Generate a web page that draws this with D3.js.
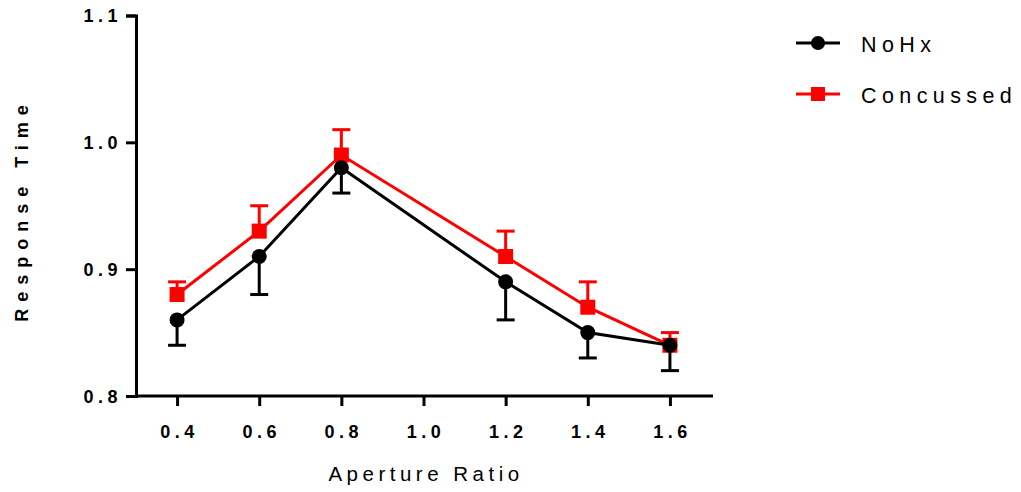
<!DOCTYPE html>
<html>
<head>
<meta charset="utf-8">
<script src="https://cdn.jsdelivr.net/npm/d3@7"></script>
<style>
  body { margin: 0; background: #fff; }
  svg { font-family: "Liberation Sans", Arial, sans-serif; }
</style>
</head>
<body>
<div class="canvas"></div>
<script>
const ratios = [0.4, 0.6, 0.8, 1.2, 1.4, 1.6];
const noHx = [0.86, 0.91, 0.98, 0.89, 0.85, 0.84];
const noHxErr = [0.02, 0.03, 0.02, 0.03, 0.02, 0.02];
const concussed = [0.88, 0.93, 0.99, 0.91, 0.87, 0.84];
const concussedErr = [0.01, 0.02, 0.02, 0.02, 0.02, 0.01];
const xTicks = [0.4, 0.6, 0.8, 1.0, 1.2, 1.4, 1.6];
const yTicks = [0.8, 0.9, 1.0, 1.1];

const svg = d3.select('.canvas').append('svg')
    .attr('width', 1021)
    .attr('height', 492)

// scales
const x = d3.scaleLinear().domain([0.3, 1.7]).range([136, 711]);
const y = d3.scaleLinear().domain([0.8, 1.1]).range([396, 15.5]);

// axes
const xAxisGroup = svg.append('g')
    .attr('transform', 'translate(0,396)')
    .call(d3.axisBottom(x).tickValues(xTicks).tickSize(10).tickPadding(19).tickFormat(d3.format('.1f')));

const yAxisGroup = svg.append('g')
    .attr('transform', 'translate(136,0)')
    .call(d3.axisLeft(y).tickValues(yTicks).tickSize(10).tickPadding(4).tickFormat(d3.format('.1f')));

[xAxisGroup, yAxisGroup].forEach(g => {
    g.select('.domain').attr('stroke', '#000').attr('stroke-width', 3);
    g.selectAll('.tick line').attr('stroke', '#000').attr('stroke-width', 3);
    g.selectAll('text')
        .attr('fill', '#000')
        .style('font-size', '18px')
        .style('font-weight', 'bold')
        .style('letter-spacing', '4.5px')
        .style('font-family', '"Liberation Sans", Arial, sans-serif');
});
xAxisGroup.select('.domain').attr('d', 'M136,0H713');
xAxisGroup.selectAll('text').attr('dx', '2px');
yAxisGroup.selectAll('text').attr('dy', '0.35em');

// titles
svg.append('text')
    .attr('x', 426).attr('y', 481)
    .attr('text-anchor', 'middle')
    .style('font-size', '20.5px')
    .style('letter-spacing', '4.5px')
    .text('Aperture Ratio');

svg.append('text')
    .attr('transform', 'translate(27.5,210) rotate(-90)')
    .attr('text-anchor', 'middle')
    .style('font-size', '18px')
    .style('font-weight', 'bold')
    .style('letter-spacing', '7px')
    .text('Response Time');

const line = d3.line().x(d => x(d[0])).y(d => y(d[1]));

const series = [
    { name: 'NoHx', values: noHx, err: noHxErr, color: '#000', dir: -1, shape: 'circle' },
    { name: 'Concussed', values: concussed, err: concussedErr, color: '#ff0000', dir: 1, shape: 'square' }
];

// red drawn first so black markers sit on top
series.slice().reverse().forEach(s => {
    const g = svg.append('g');
    const pts = ratios.map((r, i) => [r, s.values[i], s.err[i]]);

    // one-sided error bars
    pts.forEach(p => {
        const yEnd = y(p[1] + s.dir * p[2]);
        g.append('line')
            .attr('x1', x(p[0])).attr('x2', x(p[0]))
            .attr('y1', y(p[1])).attr('y2', yEnd)
            .attr('stroke', s.color).attr('stroke-width', 3);
        g.append('line')
            .attr('x1', x(p[0]) - 9).attr('x2', x(p[0]) + 9)
            .attr('y1', yEnd).attr('y2', yEnd)
            .attr('stroke', s.color).attr('stroke-width', 3);
    });

    g.append('path')
        .datum(pts)
        .attr('d', line)
        .attr('fill', 'none')
        .attr('stroke', s.color)
        .attr('stroke-width', 3);

    if (s.shape === 'circle') {
        g.selectAll('circle').data(pts).enter().append('circle')
            .attr('cx', d => x(d[0])).attr('cy', d => y(d[1]))
            .attr('r', 7.5).attr('fill', s.color);
    } else {
        g.selectAll('rect').data(pts).enter().append('rect')
            .attr('x', d => x(d[0]) - 7.5).attr('y', d => y(d[1]) - 7.5)
            .attr('width', 15).attr('height', 15).attr('fill', s.color);
    }
});

// legend
const legend = svg.append('g');
series.forEach((s, i) => {
    const ly = 43 + i * 51;
    legend.append('line')
        .attr('x1', 796).attr('x2', 840).attr('y1', ly).attr('y2', ly)
        .attr('stroke', s.color).attr('stroke-width', 3);
    if (s.shape === 'circle') {
        legend.append('circle').attr('cx', 818).attr('cy', ly).attr('r', 7).attr('fill', s.color);
    } else {
        legend.append('rect').attr('x', 811).attr('y', ly - 7).attr('width', 14).attr('height', 14).attr('fill', s.color);
    }
    legend.append('text')
        .attr('x', 861).attr('y', ly + 9)
        .style('font-size', '21.5px')
        .style('letter-spacing', '5.4px')
        .text(s.name);
});
</script>
</body>
</html>
